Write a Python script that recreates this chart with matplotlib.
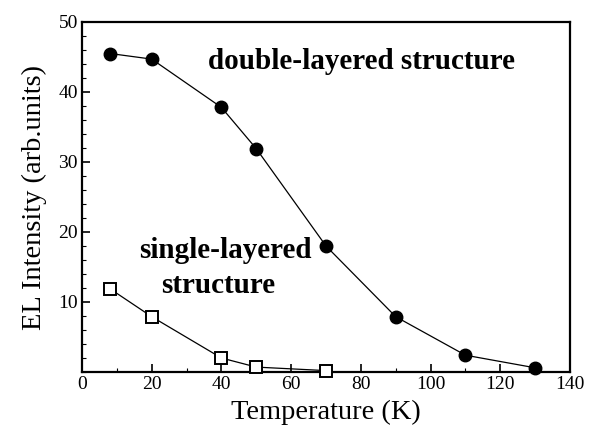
import matplotlib
matplotlib.use('Agg')
import matplotlib.pyplot as plt
from matplotlib.ticker import MultipleLocator

# Werte
temp_double = [8, 20, 40, 50, 70, 90, 110, 130]
el_double = [45.5, 44.7, 37.8, 31.9, 18.0, 7.9, 2.4, 0.6]

temp_single = [8, 20, 40, 50, 70]
el_single = [11.9, 7.9, 2.0, 0.7, 0.2]

x_ticks = [0, 20, 40, 60, 80, 100, 120, 140]
y_ticks = [10, 20, 30, 40, 50]

plt.rcParams['font.family'] = ['Liberation Serif', 'DejaVu Serif']

fig = plt.figure(figsize=(5.96, 4.34), dpi=100)
ax = fig.add_axes([82 / 596, 1 - 372 / 434, 488 / 596, 350 / 434])

ax.plot(temp_double, el_double, color='black', lw=0.9, marker='o',
        markersize=9, markerfacecolor='black', clip_on=False, zorder=3)
ax.plot(temp_single, el_single, color='black', lw=0.9, marker='s',
        markersize=8, markerfacecolor='white', markeredgewidth=1.4,
        clip_on=False, zorder=3)

ax.set_xlim(0, 140)
ax.set_ylim(0, 50)
ax.set_xticks(x_ticks)
ax.set_yticks(y_ticks)
ax.xaxis.set_minor_locator(MultipleLocator(10))
ax.yaxis.set_minor_locator(MultipleLocator(2))
ax.tick_params(which='major', direction='in', length=6, width=1.2,
               labelsize=14, pad=3)
ax.tick_params(which='minor', direction='in', length=3, width=0.8)

for s in ax.spines.values():
    s.set_linewidth(1.6)

ax.set_xlabel('Temperature (K)', fontsize=20.5, labelpad=5)
ax.set_ylabel('EL Intensity (arb.units)', fontsize=20.5, labelpad=8)

# Beschriftungen im Diagramm
ax.text(80.3, 44.3, 'double-layered structure', fontsize=21,
        fontweight='bold', ha='center', va='center')
ax.text(41, 17.4, 'single-layered', fontsize=21, fontweight='bold',
        ha='center', va='center')
ax.text(39, 12.4, 'structure', fontsize=21, fontweight='bold',
        ha='center', va='center')

fig.savefig('out.png', dpi=100)
